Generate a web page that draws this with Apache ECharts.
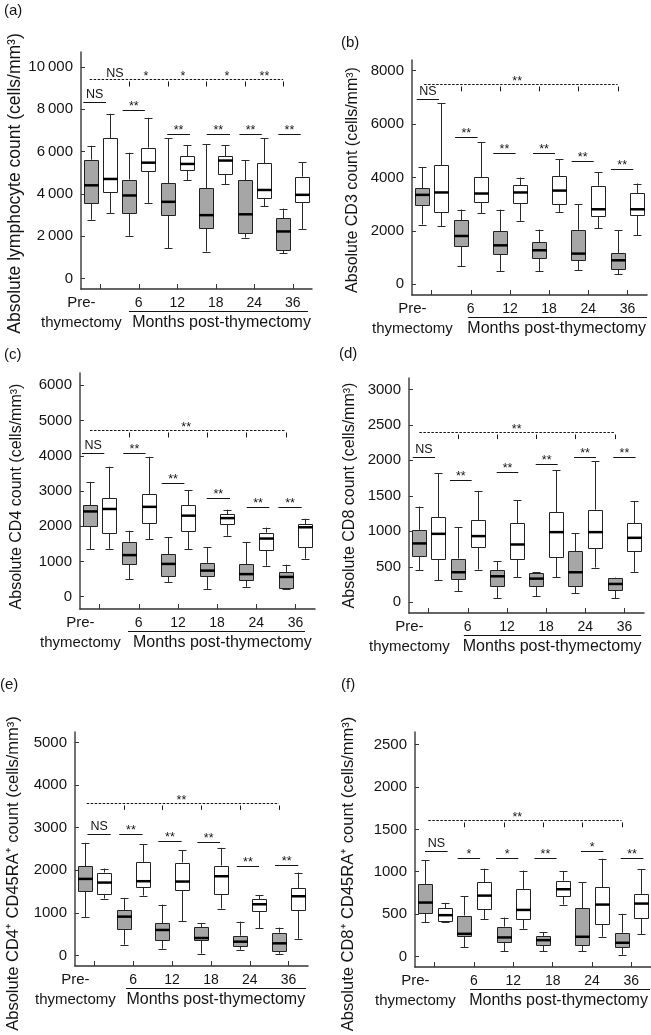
<!DOCTYPE html>
<html><head><meta charset="utf-8">
<script src="https://cdn.jsdelivr.net/npm/echarts@6/dist/echarts.min.js"></script>
<style>html,body{margin:0;padding:0;background:#fff}#c{width:651px;height:1035px}</style>
</head><body><div id="c"></div>
<script>
const FONT = '"Liberation Sans", Arial, Helvetica, sans-serif';

// time points (x-axis labels)
const timepoints = ['Pre-\nthymectomy', '6', '12', '18', '24', '36'];

// box data per time point: [min, Q1, median, Q3, max]
const lymphGrey  = [[2770,3580,4400,5610,6270],[2010,3080,3920,4670,5940],[1430,3020,3620,4510,6620],[1270,2360,2990,4260,6340],[1930,2140,3030,4650,5580],[1190,1340,2220,2850,3300]];
const lymphWhite = [[3080,4090,4700,6620,7780],[3570,5090,5470,6180,7590],[4640,5140,5410,5770,6290],[4450,4950,5570,5770,6290],[3410,3800,4180,5440,6620],[2340,3630,3950,4810,5490]];
const cd3Grey    = [[2240,2960,3350,3590,4375],[675,1440,1810,2390,2800],[500,1125,1460,1990,2800],[500,990,1275,1575,2050],[525,925,1150,2040,3000],[375,575,900,1160,2025]];
const cd3White   = [[2175,2710,3440,4460,6775],[2660,3075,3400,4010,5325],[2375,3060,3440,3710,4000],[2700,3010,3510,4040,4675],[2100,2540,2810,3690,4200],[1840,2610,2810,3410,3775]];
const cd4Grey    = [[1340,2020,2420,2600,3260],[490,920,1180,1560,1870],[410,580,930,1200,1680],[220,580,740,960,1400],[280,460,640,920,1550],[227,255,560,700,910]];
const cd4White   = [[1360,1800,2490,2800,3690],[1630,2090,2550,2910,3970],[1340,1870,2300,2590,3020],[1730,2050,2230,2340,2470],[880,1320,1650,1820,1960],[1080,1420,1970,2050,2210]];
const cd8Grey    = [[457,655,830,1020,1350],[155,330,424,617,1060],[57,226,367,452,580],[85,226,334,415,424],[127,226,424,721,975],[61,174,259,345,350]];
const cd8White   = [[311,608,965,1200,1820],[462,777,933,1160,1570],[353,608,815,1112,1437],[353,636,989,1267,1860],[490,768,989,1305,1988],[429,721,909,1116,1427]];
const cd4raGrey  = [[903,1507,1797,2096,2645],[251,628,910,1060,1350],[157,369,597,761,1193],[39,361,408,667,754],[133,220,322,463,793],[39,94,283,534,652]];
const cd4raWhite = [[1334,1452,1711,1947,2041],[1405,1609,1743,2198,2606],[808,1546,1735,2182,2473],[1099,1436,1860,2111,2527],[644,1036,1201,1319,1413],[392,1075,1389,1586,1947]];
const cd8raGrey  = [[404,510,636,856,1134],[106,239,267,483,710],[59,169,224,353,459],[59,130,192,243,286],[64,134,232,570,879],[20,111,161,279,503]];
const cd8raWhite = [[412,420,487,569,632],[436,561,718,875,1036],[326,440,549,797,1013],[612,714,793,895,1005],[232,385,612,817,1154],[264,452,624,738,1029]];

// y tick values
const lymphTicks = [0,2000,4000,6000,8000,10000];
const cd3Ticks   = [0,2000,4000,6000,8000];
const cd4Ticks   = [0,1000,2000,3000,4000,5000,6000];
const cd8Ticks   = [0,500,1000,1500,2000,2500,3000];
const cd4raTicks = [0,1000,2000,3000,4000,5000];
const cd8raTicks = [0,500,1000,1500,2000,2500];

// pairwise significance bars: [x from, x to, y value, label]
const lymphPairs = [[0.12,1.3,8320,'NS'],[2.16,3.32,7960,'**'],[4.48,5.66,6810,'**'],[6.53,7.74,6810,'**'],[8.23,9.39,6810,'**'],[10.25,11.41,6810,'**']];
const cd3Pairs   = [[0.24,1.38,6950,'NS'],[2.2,3.35,5500,'**'],[4.15,5.29,4900,'**'],[6.18,7.3,4900,'**'],[8.15,9.28,4612,'**'],[10.16,11.3,4325,'**']];
const cd4Pairs   = [[0.1,1.24,4083,'NS'],[2.21,3.35,4083,'**'],[4.17,5.33,3214,'**'],[6.47,7.66,2788,'**'],[8.51,9.67,2533,'**'],[10.13,11.32,2552,'**']];
const cd8Pairs   = [[0.19,1.33,2049,'NS'],[2.09,3.2,1729,'**'],[4.48,5.58,1832,'**'],[6.47,7.59,1945,'**'],[8.43,9.55,2049,'**'],[10.43,11.57,2049,'**']];
const cd4raPairs = [[0.64,1.84,2849,'NS'],[2.28,3.48,2849,'**'],[4.29,5.49,2692,'**'],[6.3,7.47,2653,'**'],[8.33,9.48,2111,'**'],[10.3,11.5,2135,'**']];
const cd8raPairs = [[0.51,1.66,1244,'NS'],[2.17,3.31,1166,'*'],[4.12,5.25,1166,'*'],[6.07,7.2,1166,'**'],[8.44,9.58,1244,'*'],[10.46,11.61,1166,'**']];

// overall trend (dashed) line: [y value, drop end value, start x]
const lymphTrend = [9420, 9070, 0.45];
const cd3Trend   = [7500, 7225, 0.62];
const cd4Trend   = [4745, 4520, 0.51];
const cd8Trend   = [2398, 2300, 0.53];
const cd4raTrend = [3587, 3420, 0.6];
const cd8raTrend = [1609, 1525, 0.68];
const trendDrops = [2.5, 4.5, 6.5, 8.5, 10.5];

// labels over the trend line: [x, label]
const lymphTrendLabels = [[1.76,'NS'],[3.37,'*'],[5.29,'*'],[7.58,'*'],[9.53,'**']];
const cd3TrendLabels   = [[5.37,'**']];
const cd4TrendLabels   = [[5.42,'**']];
const cd8TrendLabels   = [[5.5,'**']];
const cd4raTrendLabels = [[5.48,'**']];
const cd8raTrendLabels = [[5.2,'**']];

const panels = [
  {letter:'(a)', name:'Absolute lymphocyte count (cells/mm\u00b3)', grey:lymphGrey, white:lymphWhite, ticks:lymphTicks, pairs:lymphPairs, trend:lymphTrend, tl:lymphTrendLabels,
   grid:{left:81, top:52, width:231, height:237}, yr:[-500,10700], gap:53, pad:26, nfs:17.5, months:[2.49,11.79,7.3], lt:[4,3], spaced:true},
  {letter:'(b)', name:'Absolute CD3 count (cells/mm\u00b3)', grey:cd3Grey, white:cd3White, ticks:cd3Ticks, pairs:cd3Pairs, trend:cd3Trend, tl:cd3TrendLabels,
   grid:{left:412, top:60, width:235, height:235}, yr:[-400,8400], gap:51, pad:5, nfs:16, months:[2.87,12.0,7.39], lt:[341,35]},
  {letter:'(c)', name:'Absolute CD4 count (cells/mm\u00b3)', grey:cd4Grey, white:cd4White, ticks:cd4Ticks, pairs:cd4Pairs, trend:cd4Trend, tl:cd4TrendLabels,
   grid:{left:80, top:373, width:235, height:236}, yr:[-350,6350], gap:55, pad:11, nfs:16, months:[2.45,11.49,7.27], lt:[4,347]},
  {letter:'(d)', name:'Absolute CD8 count (cells/mm\u00b3)', grey:cd8Grey, white:cd8White, ticks:cd8Ticks, pairs:cd8Pairs, trend:cd8Trend, tl:cd8TrendLabels,
   grid:{left:409, top:378, width:235, height:235}, yr:[-150,3160], gap:51, pad:0, nfs:16, months:[2.8,11.85,7.31], lt:[339,346]},
  {letter:'(e)', name:'Absolute CD4\u207a CD45RA\u207a count (cells/mm\u00b3)', grey:cd4raGrey, white:cd4raWhite, ticks:cd4raTicks, pairs:cd4raPairs, trend:cd4raTrend, tl:cd4raTrendLabels,
   grid:{left:75, top:732, width:233, height:234}, yr:[-250,5250], gap:53, pad:49, nfs:16.5, months:[2.63,11.9,7.25], lt:[0,677]},
  {letter:'(f)', name:'Absolute CD8\u207a CD45RA\u207a count (cells/mm\u00b3)', grey:cd8raGrey, white:cd8raWhite, ticks:cd8raTicks, pairs:cd8raPairs, trend:cd8raTrend, tl:cd8raTrendLabels,
   grid:{left:415, top:732, width:236, height:235}, yr:[-125,2650], gap:58, pad:49, nfs:16.5, months:[2.8,11.95,7.3], lt:[341,677]}
];

const xTickVals = [1,3,5,7,9,11];
const xLabelVals = [0.02,3,5,7,9,11];
const GREY = '#a6a6a6';
const INK = '#141414';

function fmtThousands(v){
  if (v < 1000) return String(v);
  const s = String(v);
  return s.slice(0, s.length-3) + '\u2009' + s.slice(s.length-3);
}

function txt(x, y, s, size, va){
  return {type:'text', x:x, y:y, style:{text:s, fill:INK, fontSize:size, fontFamily:FONT,
    align:'center', textAlign:'center', verticalAlign:va||'bottom', textVerticalAlign:va||'bottom'}};
}
function crisp(v){ return Math.round(v) + 0.5; }

function renderBox(params, api){
  const x = api.value(0);
  const lo = api.coord([x, api.value(1)]);
  const q1 = api.coord([x, api.value(2)]);
  const md = api.coord([x, api.value(3)]);
  const q3 = api.coord([x, api.value(4)]);
  const hi = api.coord([x, api.value(5)]);
  const grey = api.value(6) === 1;
  const cx = crisp(lo[0]);
  const bw = 14, cw = 8;
  const wStyle = {stroke:'#2a2a2a', lineWidth:1};
  const ch = [
    {type:'line', shape:{x1:cx, y1:hi[1], x2:cx, y2:q3[1]}, style:wStyle},
    {type:'line', shape:{x1:cx, y1:q1[1], x2:cx, y2:lo[1]}, style:wStyle},
    {type:'line', shape:{x1:cx-cw/2, y1:crisp(hi[1]), x2:cx+cw/2, y2:crisp(hi[1])}, style:wStyle},
    {type:'line', shape:{x1:cx-cw/2, y1:crisp(lo[1]), x2:cx+cw/2, y2:crisp(lo[1])}, style:wStyle},
    {type:'rect', shape:{x:cx-bw/2, y:crisp(q3[1]), width:bw, height:Math.max(0.5, Math.round(q1[1])-Math.round(q3[1]))},
      style:{fill: grey ? GREY : '#ffffff', stroke:'#222', lineWidth:1}},
    {type:'line', shape:{x1:cx-bw/2-0.5, y1:md[1], x2:cx+bw/2+0.5, y2:md[1]}, style:{stroke:'#000', lineWidth:2.5}}
  ];
  return {type:'group', children:ch};
}

function makeAnnots(p){
  const list = [];
  p.pairs.forEach(a => list.push({kind:'pair', x1:a[0], x2:a[1], y:a[2], text:a[3]}));
  list.push({kind:'trend', x1:p.trend[2], x2:trendDrops[trendDrops.length-1], y:p.trend[0], drop:p.trend[1], labels:p.tl});
  list.push({kind:'months', x1:p.months[0], x2:p.months[1], xc:p.months[2], y:p.yr[0]});
  return list;
}

function annotRenderer(list){
  return function(params, api){
    const a = list[params.dataIndex];
    const ch = [];
    if (a.kind === 'pair') {
      const p1 = api.coord([a.x1, a.y]), p2 = api.coord([a.x2, a.y]);
      const y = crisp(p1[1]);
      ch.push({type:'line', shape:{x1:p1[0], y1:y, x2:p2[0], y2:y}, style:{stroke:INK, lineWidth:1}});
      const star = a.text.indexOf('*') >= 0;
      ch.push(txt((p1[0]+p2[0])/2, y + (star ? 3 : -1.5), a.text, 12.5));
    } else if (a.kind === 'trend') {
      const p1 = api.coord([a.x1, a.y]), p2 = api.coord([a.x2, a.y]);
      const y = crisp(p1[1]);
      ch.push({type:'line', shape:{x1:p1[0], y1:y, x2:p2[0], y2:y}, style:{stroke:INK, lineWidth:1, lineDash:[2.5,1.5]}});
      trendDrops.forEach(dx => {
        const d1 = api.coord([dx, a.y]), d2 = api.coord([dx, a.drop]);
        const xx = crisp(d1[0]);
        ch.push({type:'line', shape:{x1:xx, y1:y+2, x2:xx, y2:d2[1]}, style:{stroke:INK, lineWidth:1}});
      });
      a.labels.forEach(l => {
        const c = api.coord([l[0], a.y]);
        const star = l[1].indexOf('*') >= 0;
        ch.push(txt(c[0], y + (star ? 4 : 0.5), l[1], 12.5));
      });
    } else if (a.kind === 'months') {
      const u1 = api.coord([a.x1, a.y]), u2 = api.coord([a.x2, a.y]), tc = api.coord([a.xc, a.y]);
      const uy = crisp(u1[1] + 22);
      ch.push({type:'line', shape:{x1:u1[0], y1:uy, x2:u2[0], y2:uy}, style:{stroke:INK, lineWidth:1}});
      ch.push(txt(tc[0], u1[1] + 34, 'Months post-thymectomy', 16, 'middle'));
    }
    return {type:'group', children:ch};
  };
}

const grids = [], xAxes = [], yAxes = [], series = [], graphics = [];
panels.forEach((p, i) => {
  grids.push(Object.assign({containLabel:false}, p.grid));
  xAxes.push({
    gridIndex:i, type:'value', min:0, max:12,
    axisLine:{show:true, onZero:false, lineStyle:{color:'#333', width:1.5}},
    axisTick:{show:true, inside:true, length:5, customValues:xTickVals, lineStyle:{color:'#333', width:1}},
    axisLabel:{show:true, customValues:xLabelVals, margin:4,
      formatter: v => v < 1 ? '{p|Pre-}\n{p|thymectomy}' : '{n|' + timepoints[(v-1)/2] + '}',
      rich:{p:{fontSize:15, lineHeight:20, color:INK, fontFamily:FONT}, n:{fontSize:14, lineHeight:20, color:INK, fontFamily:FONT}}},
    splitLine:{show:false}
  });
  yAxes.push({
    gridIndex:i, type:'value', min:p.yr[0], max:p.yr[1],
    name:p.name, nameLocation:'middle', nameGap:p.gap, nameRotate:90,
    nameTextStyle:{fontSize:p.nfs, color:INK, fontFamily:FONT, padding:[0,p.pad,0,0]},
    axisLine:{show:true, onZero:false, lineStyle:{color:'#444', width:1.5}},
    axisTick:{show:true, inside:true, length:4, customValues:p.ticks, lineStyle:{color:'#333', width:1}},
    axisLabel:{show:true, customValues:p.ticks, fontSize:15, color:INK, fontFamily:FONT, margin:8,
      formatter: v => p.spaced ? fmtThousands(v) : String(v)},
    splitLine:{show:false}
  });
  const boxData = [];
  for (let k = 0; k < timepoints.length; k++) {
    boxData.push([2*k + 0.5].concat(p.grey[k]).concat([1]));
    boxData.push([2*k + 1.5].concat(p.white[k]).concat([0]));
  }
  series.push({type:'custom', name:'box'+i, xAxisIndex:i, yAxisIndex:i, silent:true,
    encode:{x:0, y:[1,2,3,4,5]}, renderItem:renderBox, data:boxData, clip:false});
  const ann = makeAnnots(p);
  series.push({type:'custom', name:'sig'+i, xAxisIndex:i, yAxisIndex:i, silent:true,
    encode:{x:0, y:1}, renderItem:annotRenderer(ann), data:ann.map(a => [a.x1, a.y]), clip:false});
  graphics.push({type:'text', left:p.lt[0], top:p.lt[1], style:{text:p.letter, fontSize:15, fill:INK, fontFamily:FONT}});
});

const chart = echarts.init(document.getElementById('c'), null, {renderer:'canvas'});
chart.setOption({
  animation:false, backgroundColor:'#ffffff', textStyle:{fontFamily:FONT},
  tooltip:{show:false},
  grid:grids, xAxis:xAxes, yAxis:yAxes, series:series, graphic:graphics
});
</script></body></html>
